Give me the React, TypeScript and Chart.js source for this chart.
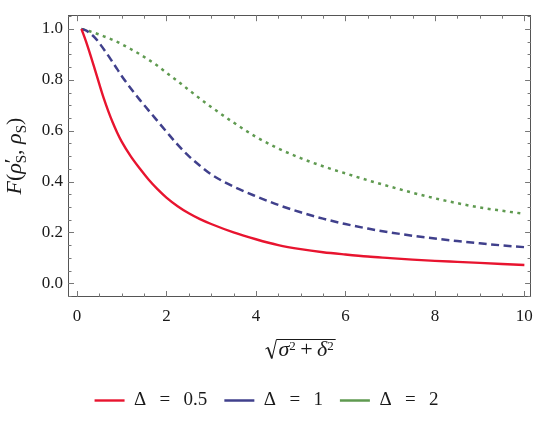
import React, { useEffect, useRef } from "react";
import { Chart, registerables } from "chart.js";

Chart.register(...registerables);

// ---- data ----
const xs = [0.1, 0.2, 0.3, 0.4, 0.5, 0.6, 0.7, 0.8, 0.9, 1.0, 1.2, 1.4, 1.6, 1.8, 2.0, 2.25, 2.5, 2.75, 3.0, 3.5, 4, 4.5, 5, 5.5, 6, 6.5, 7, 7.5, 8, 8.5, 9, 9.5, 10];
const fDelta05 = [1.0, 0.952, 0.898, 0.841, 0.783, 0.727, 0.677, 0.632, 0.592, 0.557, 0.5, 0.452, 0.408, 0.37, 0.337, 0.303, 0.275, 0.252, 0.233, 0.2, 0.173, 0.15, 0.134, 0.122, 0.113, 0.105, 0.099, 0.093, 0.088, 0.084, 0.08, 0.076, 0.072];
const fDelta1 = [1.0, 0.994, 0.982, 0.966, 0.945, 0.92, 0.895, 0.868, 0.842, 0.815, 0.767, 0.722, 0.68, 0.638, 0.596, 0.545, 0.5, 0.462, 0.428, 0.38, 0.342, 0.308, 0.279, 0.254, 0.233, 0.215, 0.2, 0.187, 0.176, 0.166, 0.157, 0.149, 0.142];
const fDelta2 = [1.0, 0.996, 0.99, 0.984, 0.978, 0.971, 0.964, 0.957, 0.949, 0.94, 0.921, 0.901, 0.879, 0.855, 0.828, 0.795, 0.76, 0.726, 0.693, 0.632, 0.576, 0.53, 0.492, 0.46, 0.432, 0.405, 0.38, 0.356, 0.334, 0.315, 0.298, 0.285, 0.273];

const seriesLabels = ["Δ\u2002\u2009=\u2002\u20090.5", "Δ\u2002\u2009=\u2002\u20091", "Δ\u2002\u2009=\u2002\u20092"];
const xMajorTicks = [0, 2, 4, 6, 8, 10];
const yMajorTicks = [0, 0.2, 0.4, 0.6, 0.8, 1.0];
const xMinorStep = 0.5;
const yMinorStep = 0.05;

const SERIF = "'Liberation Serif', 'Times New Roman', serif";

const framePlugin = {
  id: "frameAndMath",
  afterDraw(chart: any) {
    const { ctx, chartArea: a } = chart;
    const xs_ = chart.scales.x;
    const ys_ = chart.scales.y;
    ctx.save();
    // frame
    ctx.strokeStyle = "#555555";
    ctx.lineWidth = 1;
    ctx.setLineDash([]);
    ctx.strokeRect(Math.round(a.left) + 0.5, Math.round(a.top) + 0.5, Math.round(a.right - a.left) - 1, Math.round(a.bottom - a.top) - 1);

    // inward ticks on all four sides
    ctx.strokeStyle = "#777777";
    const major = 6, minor = 3.5;
    const xMin = xs_.min, xMax = xs_.max, yMin = ys_.min, yMax = ys_.max;
    ctx.beginPath();
    for (let i = Math.ceil(xMin / xMinorStep); i * xMinorStep <= xMax; i++) {
      const v = i * xMinorStep;
      if (v < xMin) continue;
      const isMajor = xMajorTicks.some((t) => Math.abs(t - v) < 1e-9);
      const len = isMajor ? major : minor;
      const px = Math.round(xs_.getPixelForValue(v)) + 0.5;
      ctx.moveTo(px, a.bottom);
      ctx.lineTo(px, a.bottom - len);
      ctx.moveTo(px, a.top);
      ctx.lineTo(px, a.top + len);
    }
    for (let i = Math.ceil(yMin / yMinorStep); i * yMinorStep <= yMax; i++) {
      const v = i * yMinorStep;
      if (v < yMin) continue;
      const isMajor = yMajorTicks.some((t) => Math.abs(t - v) < 1e-9);
      const len = isMajor ? major : minor;
      const py = Math.round(ys_.getPixelForValue(v)) + 0.5;
      ctx.moveTo(a.left, py);
      ctx.lineTo(a.left + len, py);
      ctx.moveTo(a.right, py);
      ctx.lineTo(a.right - len, py);
    }
    ctx.stroke();

    ctx.fillStyle = "#1a1a1a";
    ctx.textBaseline = "alphabetic";
    ctx.textAlign = "left";

    const big = 22;
    const fIt = `italic ${big}px ${SERIF}`;
    const fRm = `${big}px ${SERIF}`;
    const fSub = `15px ${SERIF}`;
    const fSup = `13px ${SERIF}`;
    type Piece = { t: string; f: string; dy: number; stackWithPrev?: boolean };
    const measure = (pcs: Piece[]) => {
      let w = 0;
      let prevW = 0;
      const xsOut: number[] = [];
      for (const p of pcs) {
        ctx.font = p.f;
        const pw = ctx.measureText(p.t).width;
        if (p.stackWithPrev) {
          const start = w - prevW;
          xsOut.push(start);
          const nw = Math.max(prevW, pw);
          w = start + nw;
          prevW = nw;
        } else {
          xsOut.push(w);
          w += pw;
          prevW = pw;
        }
      }
      return { w, xsOut };
    };

    // y axis title: F(ρ'_S, ρ_S)
    {
      const yPieces: Piece[] = [
        { t: "F", f: fIt, dy: 0 },
        { t: "(", f: fRm, dy: 0 },
        { t: "ρ", f: fIt, dy: 0 },
        { t: "′", f: fRm, dy: -2 },
        { t: "S", f: fSub, dy: 5, stackWithPrev: true },
        { t: ",", f: fRm, dy: 0 },
        { t: " ", f: fRm, dy: 0 },
        { t: "ρ", f: fIt, dy: 0 },
        { t: "S", f: fSub, dy: 5 },
        { t: ")", f: fRm, dy: 0 },
      ];
      const { w, xsOut } = measure(yPieces);
      ctx.save();
      ctx.translate(21, (a.top + a.bottom) / 2);
      ctx.rotate(-Math.PI / 2);
      yPieces.forEach((p, i) => {
        ctx.font = p.f;
        ctx.fillText(p.t, -w / 2 + xsOut[i], p.dy);
      });
      ctx.restore();
    }

    // x axis title: sqrt(σ^2 + δ^2)
    {
      const xPieces: Piece[] = [
        { t: "σ", f: fIt, dy: 0 },
        { t: "2", f: fSup, dy: -6 },
        { t: "\u2009+\u2009", f: fRm, dy: 0 },
        { t: "δ", f: fIt, dy: 0 },
        { t: "2", f: fSup, dy: -6 },
      ];
      const { w, xsOut } = measure(xPieces);
      const radW = 13;
      const total = radW + w + 2;
      const cx = (a.left + a.right) / 2 + 1;
      const x0 = cx - total / 2;
      const base = 356;
      const topY = 339.5;
      xPieces.forEach((p, i) => {
        ctx.font = p.f;
        ctx.fillText(p.t, x0 + radW + xsOut[i], base + p.dy);
      });
      // radical sign
      ctx.strokeStyle = "#1a1a1a";
      ctx.lineJoin = "miter";
      ctx.beginPath();
      ctx.lineWidth = 1;
      ctx.moveTo(x0, base - 7);
      ctx.lineTo(x0 + 2.5, base - 8.5);
      ctx.stroke();
      ctx.beginPath();
      ctx.lineWidth = 1.8;
      ctx.moveTo(x0 + 2.5, base - 8.5);
      ctx.lineTo(x0 + 6.5, base + 2.5);
      ctx.stroke();
      ctx.beginPath();
      ctx.lineWidth = 1;
      ctx.moveTo(x0 + 6.5, base + 2.5);
      ctx.lineTo(x0 + 11, topY);
      ctx.lineTo(x0 + total, topY);
      ctx.stroke();
    }
    ctx.restore();
  },
};

export default function App() {
  const ref = useRef<HTMLCanvasElement | null>(null);
  useEffect(() => {
    if (!ref.current) return;
    const mk = (ys: number[]) => xs.map((x, i) => ({ x, y: ys[i] }));
    const chart = new Chart(ref.current, {
      type: "line",
      data: {
        datasets: [
          {
            label: seriesLabels[0],
            data: mk(fDelta05),
            borderColor: "#e8142f",
            backgroundColor: "#e8142f",
            borderWidth: 2.4,
            pointRadius: 0,
            cubicInterpolationMode: "monotone",
          },
          {
            label: seriesLabels[1],
            data: mk(fDelta1),
            borderColor: "#40408c",
            backgroundColor: "#40408c",
            borderWidth: 2.5,
            borderDash: [8, 4.5],
            pointRadius: 0,
            cubicInterpolationMode: "monotone",
          },
          {
            label: seriesLabels[2],
            data: mk(fDelta2),
            borderColor: "#5f9a50",
            backgroundColor: "#5f9a50",
            borderWidth: 2.5,
            borderDash: [3, 4.5],
            pointRadius: 0,
            cubicInterpolationMode: "monotone",
          },
        ],
      },
      options: {
        animation: false,
        responsive: false,
        devicePixelRatio: 1,
        layout: { padding: { left: 0, right: 9, top: 7, bottom: 12 } },
        plugins: {
          tooltip: { enabled: false },
          legend: {
            position: "bottom",
            labels: {
              usePointStyle: true,
              pointStyle: "line",
              pointStyleWidth: 30,
              padding: 17,
              color: "#1a1a1a",
              font: { family: SERIF, size: 19 },
            },
          },
        },
        scales: {
          x: {
            type: "linear",
            min: -0.2,
            max: 10.15,
            grid: { display: false, drawTicks: false },
            border: { display: false },
            afterFit: (s: any) => {
              s.height = 77;
            },
            afterBuildTicks: (s: any) => {
              s.ticks = xMajorTicks.map((v) => ({ value: v }));
            },
            ticks: {
              padding: 9,
              color: "#1a1a1a",
              font: { family: SERIF, size: 17 },
              maxRotation: 0,
              callback: (v: any) => String(v),
            },
          },
          y: {
            type: "linear",
            min: -0.054,
            max: 1.054,
            grid: { display: false, drawTicks: false },
            border: { display: false },
            afterFit: (s: any) => {
              s.width = 68;
            },
            afterBuildTicks: (s: any) => {
              s.ticks = yMajorTicks.map((v) => ({ value: v }));
            },
            ticks: {
              padding: 5,
              color: "#1a1a1a",
              font: { family: SERIF, size: 17 },
              callback: (v: any) => Number(v).toFixed(1),
            },
          },
        },
      },
      plugins: [framePlugin],
    });
    return () => chart.destroy();
  }, []);
  return (
    <div style={{ position: "absolute", left: 0, top: 0, width: 542, height: 432, background: "#fff" }}>
      <canvas ref={ref} width={542} height={432} />
    </div>
  );
}
